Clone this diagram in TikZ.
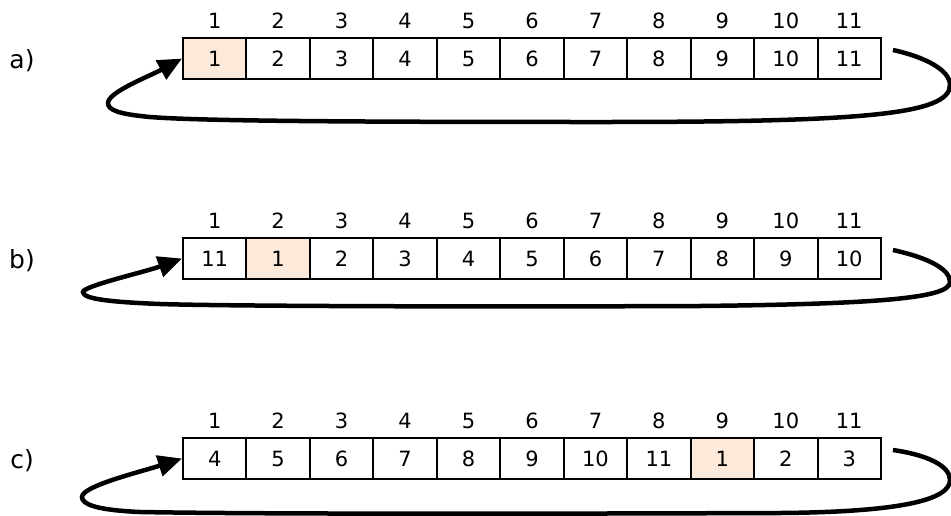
\documentclass[tikz,border=0pt]{standalone}
\usepackage{fontspec}
\setmainfont{DejaVu Sans}
\usetikzlibrary{arrows.meta}
\definecolor{peach}{RGB}{253,233,217}

\begin{document}
\begin{tikzpicture}[x=1pt, y=-1pt,
  cell/.style={draw, line width=2pt, minimum width=63.45pt,
               minimum height=41pt, inner sep=0pt,
               font=\fontsize{21}{25}\selectfont},
  hlcell/.style={cell, fill=peach},
  idx/.style={font=\fontsize{21}{25}\selectfont},
  rowlab/.style={font=\fontsize{25}{29}\selectfont},
  wrap/.style={line width=4.5pt, -{Triangle[length=24pt,width=21pt]}}
]
  \useasboundingbox (0,0) rectangle (951,515);

  % three rows: name / vertical offset / highlighted cell / contents
  \foreach \r/\oy/\hl/\vals in {
      a/0/1/{1,2,3,4,5,6,7,8,9,10,11},
      b/200/2/{11,1,2,3,4,5,6,7,8,9,10},
      c/400/9/{4,5,6,7,8,9,10,11,1,2,3}} {
    \begin{scope}[shift={(0,\oy)}]
      \node[rowlab] (lab\r) at (22,61) {\r)};
      \foreach \v [count=\i] in \vals {
        \ifnum\i=\hl \def\cst{hlcell}\else\def\cst{cell}\fi
        \node[idx] (idx\r\i) at ({183+63.45*(\i-0.5)},21) {\i};
        \node[\cst] (\r\i) at ({183+63.45*(\i-0.5)},58.5) {\v};
      }
    \end{scope}
  }

  % wrap-around arrows (last cell back to first)
  \draw[wrap] ([shift={(11,-8.5)}]a11.east)
    .. controls (925,57) and (950,70) .. (950,85)
    .. controls (950,115) and (860,122) .. (600,122)
    .. controls (350,122) and (200,121) .. (150,117)
    .. controls (118,114) and (108,110) .. (108,103)
    .. controls (108,92) and (150,76) .. (a1.west);

  \begin{scope}[shift={(0,200)}]
    \draw[wrap] ([shift={(11,-8.5)}]b11.east)
      .. controls (925,57) and (950,68) .. (950,82)
      .. controls (950,98) and (880,104) .. (700,106)
      .. controls (450,107) and (220,106) .. (160,104)
      .. controls (110,102) and (83,99) .. (83,92)
      .. controls (83,86) and (145,72) .. (b1.west);
  \end{scope}

  \begin{scope}[shift={(0,400)}]
    \draw[wrap] ([shift={(11,-8.5)}]c11.east)
      .. controls (928,55) and (950,66) .. (950,80)
      .. controls (950,100) and (900,112) .. (780,113)
      .. controls (500,114) and (250,114) .. (140,112)
      .. controls (95,110) and (82,104) .. (82,97)
      .. controls (82,86) and (140,72) .. (c1.west);
  \end{scope}
\end{tikzpicture}
\end{document}
